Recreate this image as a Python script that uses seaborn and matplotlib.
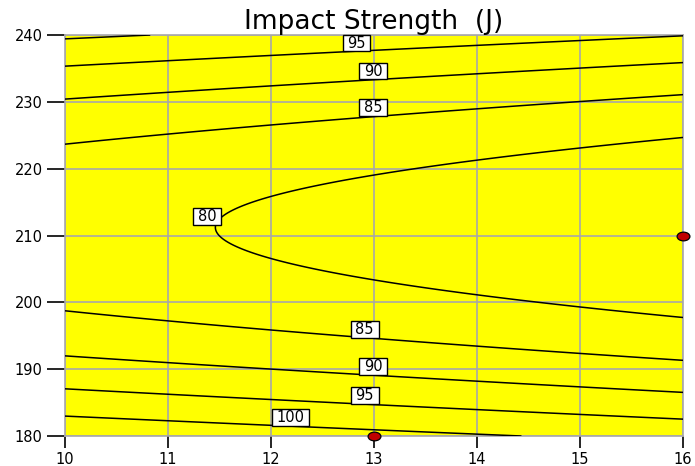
import numpy as np
import pandas as pd
import matplotlib
matplotlib.use("Agg")
import matplotlib.pyplot as plt
from matplotlib.path import Path
from matplotlib.transforms import Affine2D
import seaborn as sns

# Fitted response surface for impact strength (J):
#   impact = B0 + BX * (x - X0) + BYY * (y - Y0)^2
B0 = 78.56      # value on the ridge at x = X0
BX = -0.935     # linear effect of x
BYY = 0.0234    # curvature in y
X0 = 13.0
Y0 = 211.2

# Axis ranges and ticks
x_range = [10, 16]
y_range = [180, 240]
x_ticks = [10, 11, 12, 13, 14, 15, 16]
y_ticks = [180, 190, 200, 210, 220, 230, 240]

# Contour levels shown
levels = [80, 85, 90, 95, 100]

# Design points
design_x = [16, 13]
design_y = [210, 180]

# Where each contour label sits (level, x, y)
label_level = [95, 90, 85, 80, 85, 90, 95, 100]
label_x = [12.83, 12.99, 12.99, 11.38, 12.91, 12.99, 12.91, 12.19]
label_y = [238.8, 234.6, 229.1, 212.8, 195.9, 190.4, 186.1, 182.8]

sns.set_style("white")
plt.rcParams["font.family"] = ["DejaVu Sans"]
plt.rcParams["text.color"] = "black"

fig = plt.figure(figsize=(6.95, 4.66), dpi=100)
ax = fig.add_axes([65 / 695, 1 - 436 / 466, (683 - 65) / 695, (436 - 35) / 466])
ax.set_facecolor("#ffff00")

gx = np.linspace(x_range[0], x_range[1], 400)
gy = np.linspace(y_range[0], y_range[1], 400)
GX, GY = np.meshgrid(gx, gy)
GZ = B0 + BX * (GX - X0) + BYY * (GY - Y0) ** 2

ax.contour(GX, GY, GZ, levels=levels, colors="black", linewidths=1.1, zorder=3)


def label_box(x0, y0, width, height, mutation_size):
    px = 0.32 * mutation_size
    py = 0.06 * mutation_size
    x0, y0 = x0 - px, y0 - py
    x1, y1 = x0 + width + 2 * px, y0 + height + 2 * py
    return Path([(x0, y0), (x1, y0), (x1, y1), (x0, y1), (x0, y0)],
                [Path.MOVETO, Path.LINETO, Path.LINETO, Path.LINETO, Path.CLOSEPOLY])


for lvl, lx, ly in zip(label_level, label_x, label_y):
    ax.text(lx, ly, f"{lvl}", ha="center", va="center", fontsize=10.5, color="black",
            zorder=5,
            bbox=dict(boxstyle=label_box, facecolor="white", edgecolor="black", linewidth=1.0))

ellipse = Path.unit_circle().transformed(Affine2D().scale(1.0, 0.68))
pts = pd.DataFrame({"x": design_x, "y": design_y})
sns.scatterplot(data=pts, x="x", y="y", ax=ax, marker=ellipse, s=85,
                color="#c00000", edgecolor="black", linewidth=0.9, zorder=6, clip_on=False)

ax.set_xlim(*x_range)
ax.set_ylim(*y_range)
ax.set_xticks(x_ticks)
ax.set_yticks(y_ticks)
ax.set_xlabel("")
ax.set_ylabel("")
ax.grid(True, color="#a8a8a8", linewidth=1.2, zorder=1)
ax.set_axisbelow(True)
for sp in ax.spines.values():
    sp.set_color("#a8a8a8")
    sp.set_linewidth(1.2)
    sp.set_visible(True)

ax.tick_params(axis="y", direction="out", length=13, width=1.2, color="black",
               labelcolor="black", labelsize=10.5, pad=3, left=True)
ax.tick_params(axis="x", direction="out", length=8.5, width=1.2, color="black",
               labelcolor="black", labelsize=10.5, pad=3, bottom=True)

ax.set_title("Impact Strength  (J)", fontsize=19, pad=4, color="black")

fig.savefig("out.png", dpi=100)
